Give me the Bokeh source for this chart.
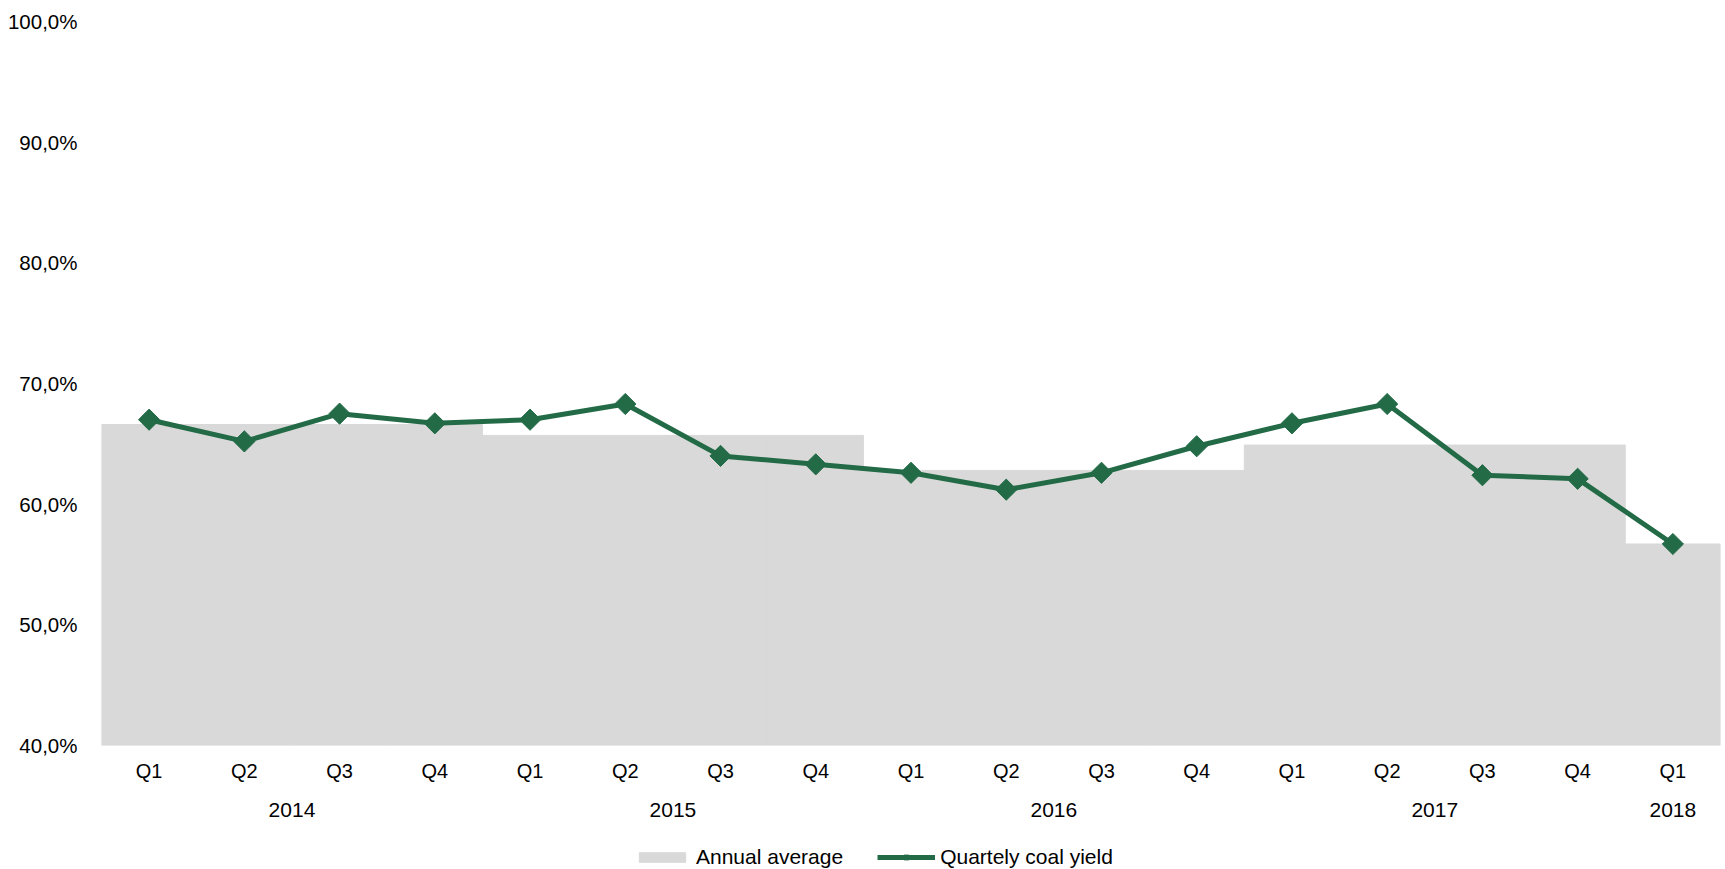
from bokeh.plotting import figure
from bokeh.layouts import column
from bokeh.models import (Range1d, FixedTicker, Legend, LegendItem, ColumnDataSource,
                          LinearAxis)
from bokeh.embed import file_html
from bokeh.resources import INLINE
from math import pi, nan

# Quarterly coal yield (%) and the annual averages shown behind them
years = ["2014", "2014", "2014", "2014",
         "2015", "2015", "2015", "2015",
         "2016", "2016", "2016", "2016",
         "2017", "2017", "2017", "2017",
         "2018"]
quarters = ["Q1", "Q2", "Q3", "Q4",
            "Q1", "Q2", "Q3", "Q4",
            "Q1", "Q2", "Q3", "Q4",
            "Q1", "Q2", "Q3", "Q4",
            "Q1"]
coal_yield = [67.0, 65.2, 67.5, 66.7,
              67.0, 68.3, 64.0, 63.3,
              62.6, 61.2, 62.6, 64.8,
              66.7, 68.3, 62.4, 62.1,
              56.7]
avg_years = ["2014", "2015", "2016", "2017", "2018"]
avg_values = [66.6, 65.7, 62.8, 64.9, 56.7]
y_ticks = [40, 50, 60, 70, 80, 90, 100]

FONT = "Liberation Sans"
GREEN = "#236B47"
GREY = "#D9D9D9"
INK = "#000000"

BAR_STYLE = dict(fill_color=GREY, line_color=GREY, line_width=1)
LINE_STYLE = dict(line_color=GREEN, line_width=5)
MARKER_STYLE = dict(marker="square", angle=pi / 4, size=15, fill_color=GREEN, line_color=GREEN)

# one slot per quarter, centred in its slot
n = len(quarters)
xpos = [i + 0.5 for i in range(n)]
avg_by_year = dict(zip(avg_years, avg_values))
source = ColumnDataSource(dict(
    x=xpos,
    yield_=coal_yield,
    avg=[avg_by_year[y] for y in years],
))

# centre of each year's block of quarters, for the year labels
year_centres = {}
for yr in avg_years:
    idx = [i for i, y in enumerate(years) if y == yr]
    year_centres[yr] = (min(idx) + max(idx)) / 2 + 0.5

p = figure(
    width=1725, height=826,
    x_range=Range1d(0, n), y_range=Range1d(40, 100),
    output_backend="svg", toolbar_location=None,
    min_border_left=101, min_border_right=5, min_border_top=21, min_border_bottom=81,
)
p.outline_line_color = None
p.background_fill_color = "white"
p.border_fill_color = "white"
p.grid.visible = False

p.vbar(x="x", top="avg", bottom=40, width=1.0, source=source, **BAR_STYLE)
p.line(x="x", y="yield_", source=source, **LINE_STYLE)
p.scatter(x="x", y="yield_", source=source, **MARKER_STYLE)

# y axis: percentages with a decimal comma
yax = p.yaxis[0]
yax.ticker = FixedTicker(ticks=y_ticks)
yax.major_label_overrides = {t: f"{t},0%" for t in y_ticks}
yax.axis_line_color = None
yax.major_tick_line_color = None
yax.minor_tick_line_color = None
yax.major_label_text_font = FONT
yax.major_label_text_font_size = "20.5px"
yax.major_label_text_color = INK
yax.major_label_standoff = 18


def style_x_axis(ax, size, standoff):
    ax.axis_line_color = None
    ax.major_tick_line_color = None
    ax.minor_tick_line_color = None
    ax.major_label_text_font = FONT
    ax.major_label_text_font_size = size
    ax.major_label_text_color = INK
    ax.major_label_standoff = standoff


# x axis: quarter names
qax = p.xaxis[0]
qax.ticker = FixedTicker(ticks=xpos)
qax.major_label_overrides = {x: q for x, q in zip(xpos, quarters)}
style_x_axis(qax, "20px", 8)

# second x axis underneath: the years
yrax = LinearAxis(ticker=FixedTicker(ticks=list(year_centres.values())),
                  major_label_overrides={c: yr for yr, c in year_centres.items()})
style_x_axis(yrax, "21px", 12)
p.add_layout(yrax, "below")

# legend strip underneath the chart; its renderers hold no visible data
leg = figure(
    width=1725, height=43,
    x_range=Range1d(0, 1), y_range=Range1d(0, 1),
    output_backend="svg", toolbar_location=None,
    x_axis_location=None, y_axis_location=None,
    min_border_left=0, min_border_right=0, min_border_top=0, min_border_bottom=0,
)
leg.outline_line_color = None
leg.grid.visible = False
blank = ColumnDataSource(dict(x=[nan], y=[nan]))
r_bar = leg.vbar(x="x", top="y", width=1, source=blank, **BAR_STYLE)
r_line = leg.line(x="x", y="y", source=blank, **LINE_STYLE)
r_pts = leg.scatter(x="x", y="y", source=blank, **MARKER_STYLE)

legend = Legend(
    items=[LegendItem(label="Annual average", renderers=[r_bar]),
           LegendItem(label="Quartely coal yield", renderers=[r_line, r_pts])],
    orientation="horizontal", location=(532, 0),
    label_text_font=FONT, label_text_font_size="21px", label_text_color=INK,
    glyph_width=58, glyph_height=12, label_standoff=5, spacing=34,
    border_line_color=None, background_fill_alpha=0, margin=0, padding=4,
)
leg.add_layout(legend, "center")

layout = column(p, leg, spacing=0)

with open("out.html", "w") as f:
    f.write(file_html(layout, INLINE))
